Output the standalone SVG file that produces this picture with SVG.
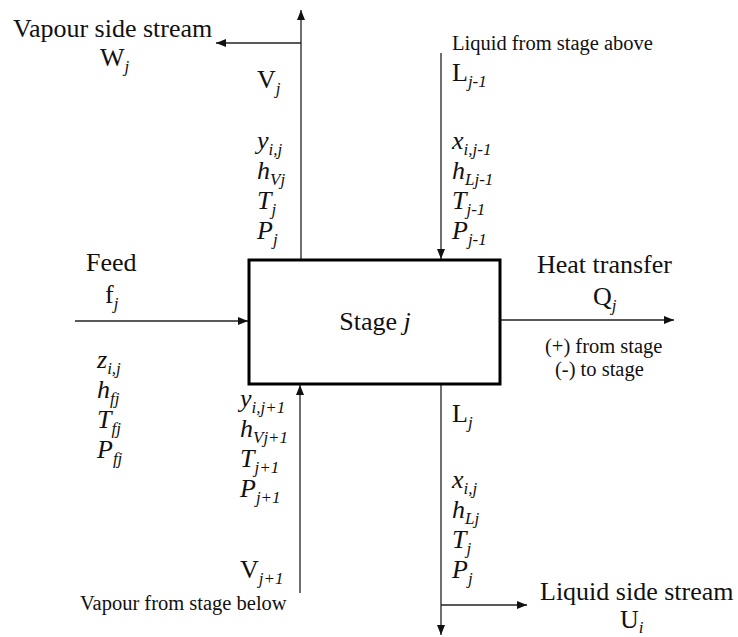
<svg xmlns="http://www.w3.org/2000/svg" width="738" height="637" viewBox="0 0 738 637">
<defs>
<marker id="arr" viewBox="0 0 10 8" refX="10" refY="4" markerWidth="10" markerHeight="8" markerUnits="userSpaceOnUse" orient="auto">
<path d="M0,0 L10,4 L0,8 z" fill="#111"/>
</marker>
<style>
.big{font-size:26px}
.sm{font-size:20.5px}
.it{font-style:italic}
.sub{font-size:17px;font-style:italic}
.ln{stroke:#222;stroke-width:1.3;fill:none}
.arr{marker-end:url(#arr)}
</style>
</defs>
<rect width="738" height="637" fill="#fff"/>
<g id="connectors">
<line class="ln arr" x1="301" y1="260" x2="301" y2="10"/>
<line class="ln arr" x1="301" y1="43" x2="216" y2="43"/>
<line class="ln arr" x1="441" y1="53" x2="441" y2="259"/>
<line class="ln arr" x1="75" y1="321" x2="248" y2="321"/>
<line class="ln arr" x1="501" y1="320" x2="674" y2="320"/>
<line class="ln arr" x1="300" y1="593" x2="300" y2="385"/>
<line class="ln arr" x1="441" y1="385" x2="441" y2="635"/>
<line class="ln arr" x1="441" y1="605" x2="527" y2="605"/>
</g>
<g font-family="Liberation Serif, Times New Roman, serif" fill="#111">
<g id="stage">
<rect x="249" y="260" width="251" height="124" fill="#fff" stroke="#000" stroke-width="3"/>
<text class="big" x="375" y="330" text-anchor="middle">Stage <tspan class="it">j</tspan></text>
</g>
<g id="vapour-side-stream">
<text class="big" x="13" y="37">Vapour side stream</text>
<text class="big" x="100" y="66">W<tspan class="sub" dy="6">j</tspan></text>
</g>
<g id="vapour-out">
<text class="big" x="257" y="88">V<tspan class="sub" dy="6">j</tspan></text>
<text class="big it" x="257" y="149">y<tspan class="sub" dy="6">i,j</tspan></text>
<text class="big it" x="257" y="179">h<tspan class="sub" dy="6">Vj</tspan></text>
<text class="big it" x="257" y="209">T<tspan class="sub" dy="6">j</tspan></text>
<text class="big it" x="257" y="239">P<tspan class="sub" dy="6">j</tspan></text>
</g>
<g id="liquid-in">
<text class="sm" x="452" y="50">Liquid from stage above</text>
<text class="big" x="452" y="81">L<tspan class="sub" dy="6">j-1</tspan></text>
<text class="big it" x="452" y="149">x<tspan class="sub" dy="6">i,j-1</tspan></text>
<text class="big it" x="452" y="179">h<tspan class="sub" dy="6">Lj-1</tspan></text>
<text class="big it" x="452" y="209">T<tspan class="sub" dy="6">j-1</tspan></text>
<text class="big it" x="452" y="239">P<tspan class="sub" dy="6">j-1</tspan></text>
</g>
<g id="feed">
<text class="big" x="86" y="271">Feed</text>
<text class="big" x="105" y="303">f<tspan class="sub" dy="6">j</tspan></text>
<text class="big it" x="97" y="368">z<tspan class="sub" dy="6">i,j</tspan></text>
<text class="big it" x="97" y="398">h<tspan class="sub" dy="6">fj</tspan></text>
<text class="big it" x="97" y="428">T<tspan class="sub" dy="6">fj</tspan></text>
<text class="big it" x="97" y="458">P<tspan class="sub" dy="6">fj</tspan></text>
</g>
<g id="heat-transfer">
<text class="big" x="537" y="273">Heat transfer</text>
<text class="big" x="593" y="305">Q<tspan class="sub" dy="6">j</tspan></text>
<text class="sm" x="545" y="353">(+) from stage</text>
<text class="sm" x="555" y="376">(-) to stage</text>
</g>
<g id="vapour-in">
<text class="big it" x="240" y="407">y<tspan class="sub" dy="6">i,j+1</tspan></text>
<text class="big it" x="240" y="437">h<tspan class="sub" dy="6">Vj+1</tspan></text>
<text class="big it" x="240" y="467">T<tspan class="sub" dy="6">j+1</tspan></text>
<text class="big it" x="240" y="497">P<tspan class="sub" dy="6">j+1</tspan></text>
<text class="big" x="240" y="578">V<tspan class="sub" dy="6">j+1</tspan></text>
<text class="sm" x="80" y="610">Vapour from stage below</text>
</g>
<g id="liquid-out">
<text class="big" x="452" y="422">L<tspan class="sub" dy="6">j</tspan></text>
<text class="big it" x="452" y="488">x<tspan class="sub" dy="6">i,j</tspan></text>
<text class="big it" x="452" y="518">h<tspan class="sub" dy="6">Lj</tspan></text>
<text class="big it" x="452" y="548">T<tspan class="sub" dy="6">j</tspan></text>
<text class="big it" x="452" y="578">P<tspan class="sub" dy="6">j</tspan></text>
</g>
<g id="liquid-side-stream">
<text class="big" x="540" y="600">Liquid side stream</text>
<text class="big" x="620" y="628">U<tspan class="sub" dy="5">i</tspan></text>
</g>
</g>
</svg>
